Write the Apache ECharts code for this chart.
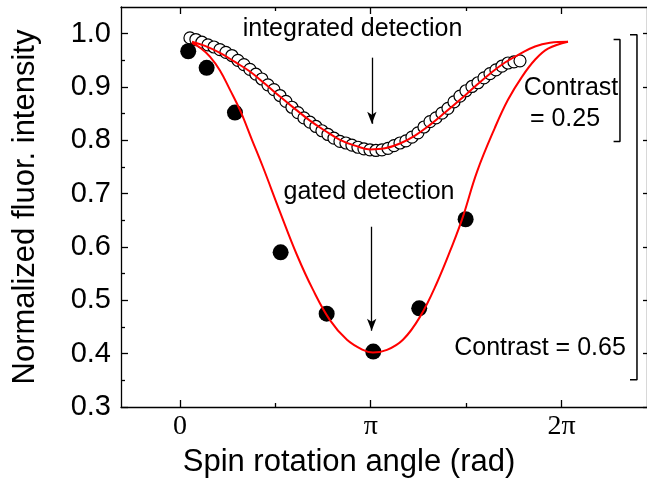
<!DOCTYPE html>
<html>
<head>
<meta charset="utf-8">
<script src="https://cdn.jsdelivr.net/npm/echarts@6/dist/echarts.min.js"></script>
<style>
  html, body { margin: 0; padding: 0; background: #fff; }
  #chart { width: 647px; height: 483px; }
</style>
</head>
<body>
<div id="chart"></div>
<script>
const PI = Math.PI;

// open circles: integrated detection
const integAngle = [0.165, 0.263, 0.362, 0.461, 0.560, 0.659, 0.757, 0.856, 0.955, 1.054,
  1.153, 1.251, 1.350, 1.449, 1.548, 1.647, 1.745, 1.844, 1.943, 2.042,
  2.141, 2.239, 2.338, 2.437, 2.536, 2.635, 2.733, 2.832, 2.931, 3.030,
  3.129, 3.227, 3.326, 3.425, 3.524, 3.623, 3.721, 3.820, 3.919, 4.018,
  4.117, 4.215, 4.314, 4.413, 4.512, 4.611, 4.709, 4.808, 4.907, 5.006,
  5.105, 5.203, 5.302, 5.401, 5.500, 5.599];
const integValue = [0.992, 0.989, 0.984, 0.979, 0.975, 0.970, 0.965, 0.959, 0.950, 0.942,
  0.933, 0.924, 0.915, 0.904, 0.895, 0.884, 0.873, 0.862, 0.852, 0.842,
  0.834, 0.826, 0.818, 0.811, 0.804, 0.798, 0.795, 0.791, 0.787, 0.784,
  0.782, 0.781, 0.782, 0.785, 0.790, 0.795, 0.799, 0.806, 0.814, 0.825,
  0.835, 0.842, 0.851, 0.860, 0.872, 0.883, 0.893, 0.901, 0.908, 0.917,
  0.925, 0.932, 0.939, 0.945, 0.947, 0.949];

// filled dots: gated detection
const gatedAngle = [0.137, 0.440, 0.906, 1.658, 2.416, 3.183, 3.940, 4.704];
const gatedValue = [0.967, 0.936, 0.852, 0.590, 0.475, 0.404, 0.485, 0.652];

// red fit curves
const fitIntegAngle = [0.198, 0.412, 0.659, 0.906, 1.153, 1.400, 1.647, 1.894, 2.141, 2.388,
  2.635, 2.882, 3.129, 3.376, 3.623, 3.870, 4.117, 4.364, 4.611, 4.858,
  5.105, 5.352, 5.599, 5.846, 6.093, 6.389];
const fitIntegValue = [0.985, 0.977, 0.964, 0.947, 0.929, 0.906, 0.882, 0.859, 0.837, 0.818,
  0.801, 0.790, 0.783, 0.785, 0.794, 0.809, 0.829, 0.852, 0.876, 0.901,
  0.925, 0.946, 0.962, 0.976, 0.983, 0.985];
const fitGatedAngle = [0.198, 0.329, 0.494, 0.659, 0.823, 0.988, 1.186, 1.367, 1.647, 1.927,
  2.190, 2.470, 2.750, 3.013, 3.178, 3.409, 3.672, 3.952, 4.232, 4.495,
  4.660, 4.891, 5.187, 5.401, 5.631, 5.846, 6.060, 6.389];
const fitGatedValue = [0.983, 0.974, 0.957, 0.931, 0.895, 0.857, 0.801, 0.750, 0.666, 0.585,
  0.520, 0.463, 0.426, 0.407, 0.402, 0.407, 0.426, 0.469, 0.533, 0.606,
  0.657, 0.741, 0.824, 0.876, 0.919, 0.951, 0.972, 0.985];

// ticks
const xMajor = [0, PI, 2 * PI];
const xMinor = [PI / 2, 3 * PI / 2];
const yMajor = [0.3, 0.4, 0.5, 0.6, 0.7, 0.8, 0.9, 1.0];
const yMinor = [0.35, 0.45, 0.55, 0.65, 0.75, 0.85, 0.95];

// contrast brackets and arrows (data units)
const bracket25 = [[7.14, 0.989], [7.245, 0.989], [7.245, 0.798], [7.14, 0.798]];
const bracket65 = [[7.41, 0.998], [7.525, 0.998], [7.525, 0.351], [7.41, 0.351]];
const arrowInteg = [[3.16, 0.955], [3.16, 0.831]];
const arrowGated = [[3.157, 0.638], [3.157, 0.443]];

const zip = (a, b) => a.map((v, i) => [v, b[i]]);

const black = '#000';
const sans = 'Liberation Sans, Arial, Helvetica, sans-serif';
const X_MIN = -0.97, X_MAX = 7.69;
const Y_MIN = 0.3, Y_MAX = 1.05;

function xAx(pos, values, len, withLine, withLabel, extra) {
  return Object.assign({
    type: 'value', position: pos, min: X_MIN, max: X_MAX,
    axisLine: { show: withLine, onZero: false, lineStyle: { color: black, width: 1.3 } },
    axisTick: { show: true, inside: true, length: len, customValues: values, lineStyle: { color: black, width: 1.3 } },
    axisLabel: withLabel ? {
      customValues: values, color: black, fontSize: 28, margin: 6,
      fontFamily: 'Liberation Serif, Times New Roman, serif',
      formatter: function (v) {
        if (Math.abs(v) < 1e-6) return '0';
        if (Math.abs(v - PI) < 1e-6) return 'π';
        return '2π';
      }
    } : { show: false },
    splitLine: { show: false }
  }, extra || {});
}

function yAx(pos, values, len, withLine, withLabel, extra) {
  return Object.assign({
    type: 'value', position: pos, min: Y_MIN, max: Y_MAX,
    axisLine: { show: withLine, onZero: false, lineStyle: { color: black, width: 1.3 } },
    axisTick: { show: true, inside: true, length: len, customValues: values, lineStyle: { color: black, width: 1.3 } },
    axisLabel: withLabel ? {
      customValues: values, color: black, fontSize: 29, margin: 10, fontFamily: sans,
      formatter: v => v.toFixed(1)
    } : { show: false },
    splitLine: { show: false }
  }, extra || {});
}

const chart = echarts.init(document.getElementById('chart'));

chart.setOption({
  animation: false,
  backgroundColor: '#fff',
  grid: { left: 121, right: 0, top: 7, bottom: 75.5, containLabel: false },
  xAxis: [
    xAx('bottom', xMajor, 7, true, true, {
      name: 'Spin rotation angle (rad)', nameLocation: 'middle', nameGap: 40,
      nameTextStyle: { color: black, fontSize: 31, fontFamily: sans, padding: [0, 70, 0, 0] }
    }),
    xAx('bottom', xMinor, 4, false, false),
    xAx('top', xMajor, 7, true, false),
    xAx('top', xMinor, 4, false, false)
  ],
  yAxis: [
    yAx('left', yMajor, 7, true, true, {
      name: 'Normalized fluor. intensity', nameLocation: 'middle', nameGap: 80,
      nameTextStyle: { color: black, fontSize: 31, fontFamily: sans }
    }),
    yAx('left', yMinor, 4, false, false),
    yAx('right', yMajor, 4, true, false)
  ],
  series: [
    {
      name: 'integrated', type: 'scatter', symbol: 'circle', symbolSize: 12,
      itemStyle: { color: '#fff', borderColor: black, borderWidth: 1.2, opacity: 1 },
      data: zip(integAngle, integValue)
    },
    {
      name: 'gated', type: 'scatter', symbol: 'circle', symbolSize: 16,
      itemStyle: { color: black, opacity: 1 },
      data: zip(gatedAngle, gatedValue)
    },
    {
      name: 'fit integrated', type: 'line', smooth: 0.4, showSymbol: false,
      lineStyle: { color: '#ff0000', width: 2 },
      data: zip(fitIntegAngle, fitIntegValue)
    },
    {
      name: 'fit gated', type: 'line', smooth: 0.4, showSymbol: false,
      lineStyle: { color: '#ff0000', width: 2 },
      data: zip(fitGatedAngle, fitGatedValue),
      markLine: {
        silent: true, symbol: ['none', 'arrow'], symbolSize: [7, 12],
        lineStyle: { color: black, width: 1.3, type: 'solid' },
        label: { show: false },
        data: [
          [{ coord: arrowInteg[0] }, { coord: arrowInteg[1] }],
          [{ coord: arrowGated[0] }, { coord: arrowGated[1] }]
        ]
      }
    },
    {
      name: 'bracket 0.25', type: 'line', showSymbol: false, clip: false,
      lineStyle: { color: black, width: 1.5 },
      data: bracket25
    },
    {
      name: 'bracket 0.65', type: 'line', showSymbol: false, clip: false,
      lineStyle: { color: black, width: 1.5 },
      data: bracket65
    }
  ],
  graphic: [
    { type: 'text', x: 352.5, y: 29, style: { text: 'integrated detection', font: '25px ' + sans, fill: black, align: 'center', verticalAlign: 'middle' } },
    { type: 'text', x: 369, y: 192, style: { text: 'gated detection', font: '25px ' + sans, fill: black, align: 'center', verticalAlign: 'middle' } },
    { type: 'text', x: 571, y: 88, style: { text: 'Contrast', font: '25px ' + sans, fill: black, align: 'center', verticalAlign: 'middle' } },
    { type: 'text', x: 565, y: 119, style: { text: '= 0.25', font: '25px ' + sans, fill: black, align: 'center', verticalAlign: 'middle' } },
    { type: 'text', x: 540, y: 348, style: { text: 'Contrast = 0.65', font: '25px ' + sans, fill: black, align: 'center', verticalAlign: 'middle' } }
  ]
});
</script>
</body>
</html>
